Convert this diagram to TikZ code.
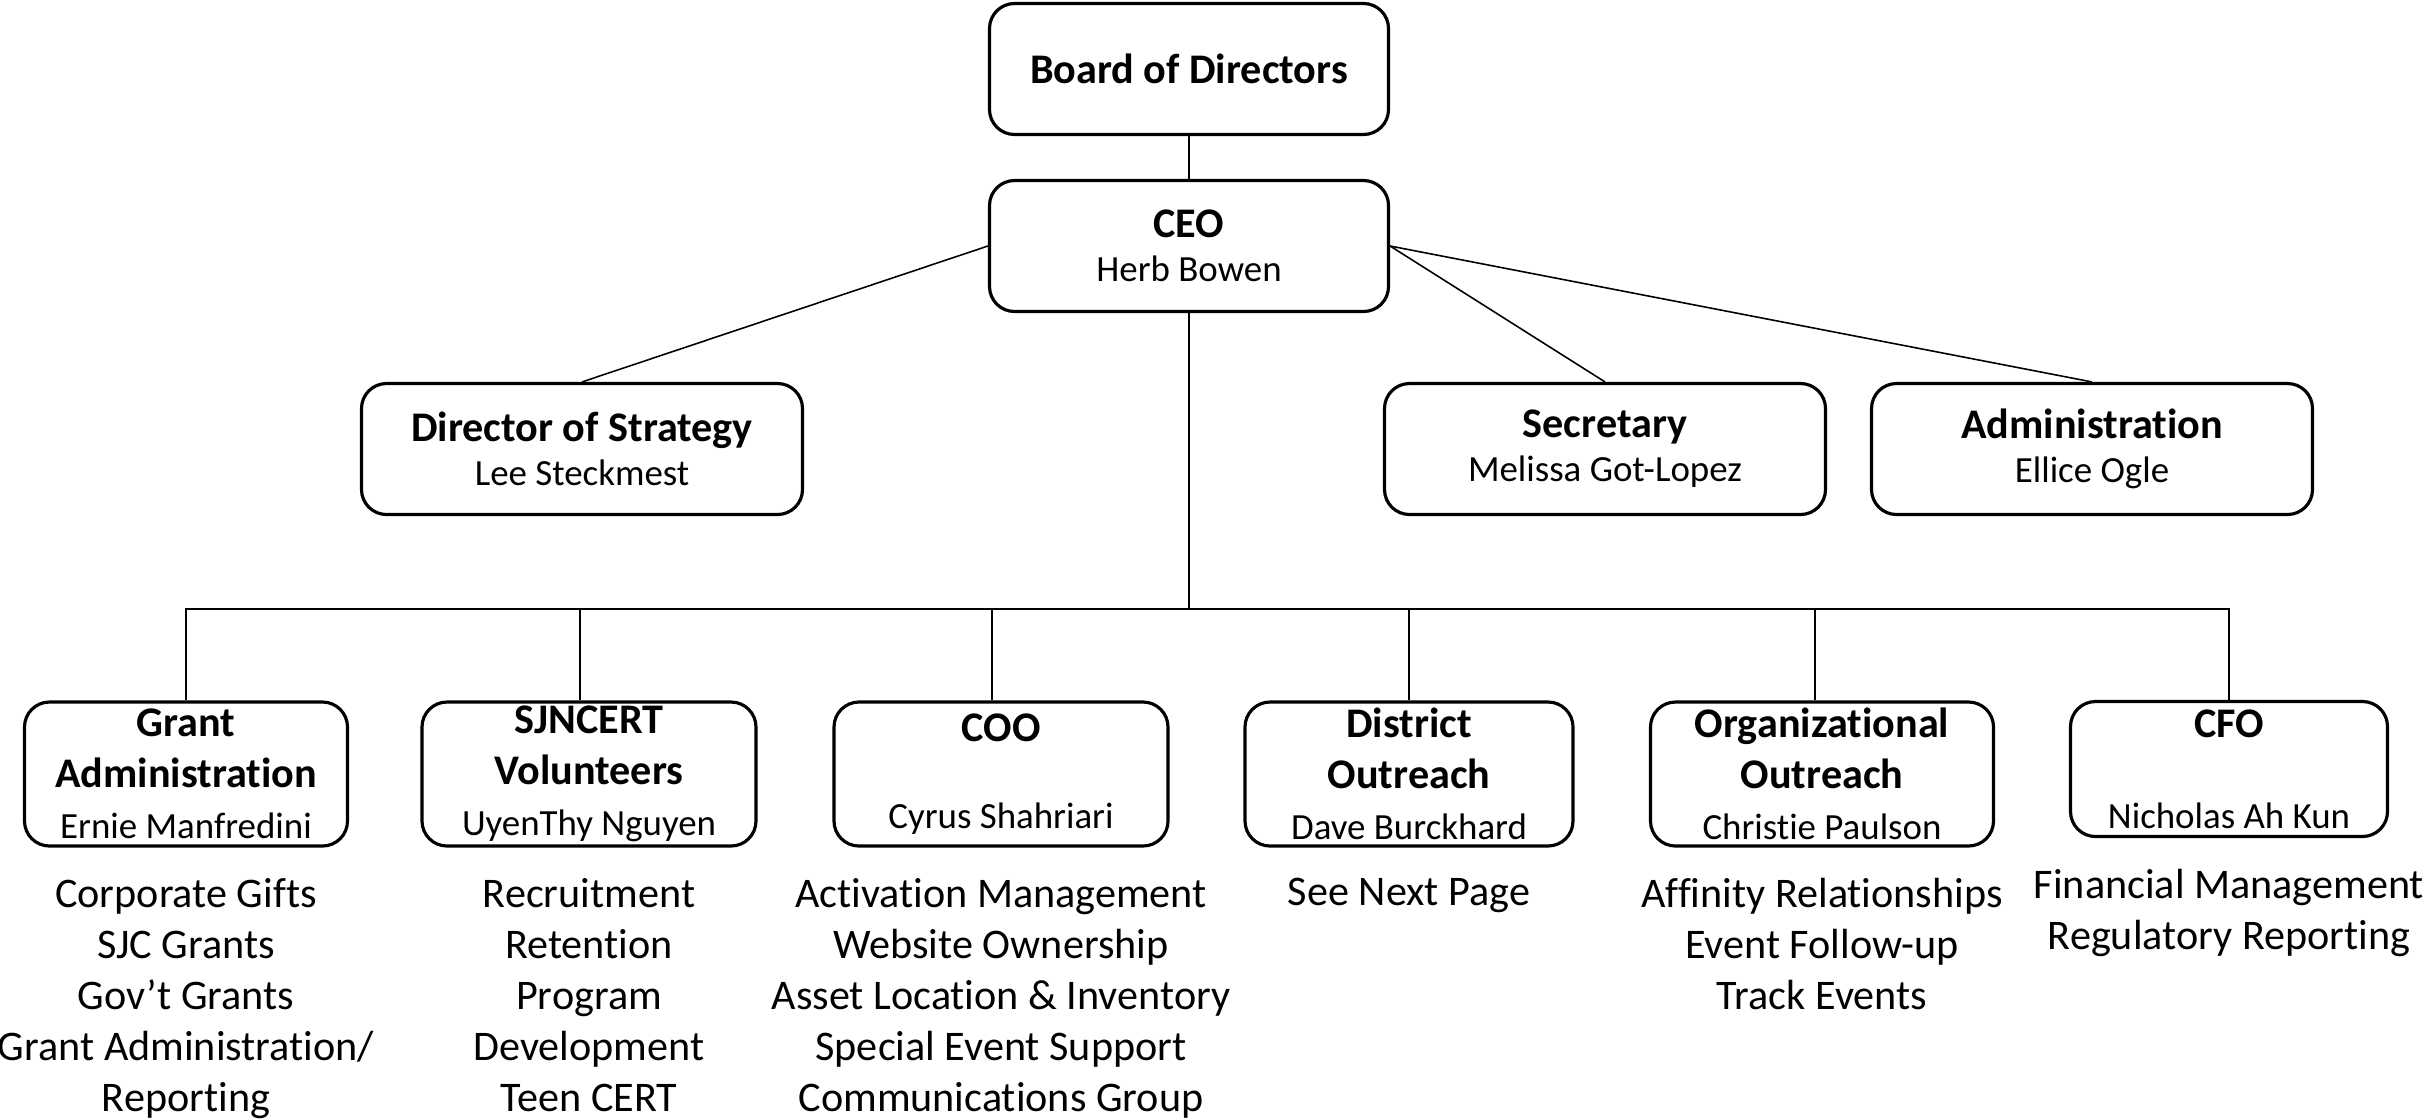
\documentclass[tikz,border=0pt]{standalone}
\usepackage{fontspec}
\setmainfont{Carlito}[Ligatures=NoCommon]
\usetikzlibrary{positioning}
\newcommand{\person}[1]{{\fontsize{10.5}{12}\selectfont #1}}

\begin{document}
\begin{tikzpicture}[
		box/.style={draw, rounded corners=0.25cm, line width=0.9pt, align=center,
			inner sep=1pt, font=\fontsize{12}{14.5}\selectfont},
		topbox/.style={box, minimum width=3.99cm, minimum height=1.31cm},
		midbox/.style={box, minimum width=4.41cm, minimum height=1.31cm},
		lowbox/.style={box, minimum height=1.44cm},
		duties/.style={align=center, inner sep=0pt, below=0.3cm of #1,
			font=\fontsize{12}{14.5}\selectfont},
		link/.style={line width=0.45pt}
	]
	\useasboundingbox (0,0) rectangle (24.25,-11.19);

	% top of the chart
	\node[topbox] (board) at (11.89,-0.69) {\textbf{Board of Directors}};
	\node[topbox] (ceo) at (11.89,-2.46) {\textbf{CEO}\\[-2pt]\person{Herb Bowen}};

	\node[midbox] (strategy) at (5.82,-4.49) {\textbf{Director of Strategy}\\[-2pt]\person{Lee Steckmest}};
	\node[midbox] (secretary) at (16.05,-4.49) {\textbf{Secretary}\\[-2pt]\person{Melissa Got-Lopez}};
	\node[midbox] (admin) at (20.92,-4.49) {\textbf{Administration}\\[-2pt]\person{Ellice Ogle}};

	% departments
	\node[lowbox, minimum width=3.23cm] (grant) at (1.86,-7.74)
		{\textbf{Grant}\\\textbf{Administration}\\\person{Ernie Manfredini}};
	\node[lowbox, minimum width=3.34cm] (sjncert) at (5.89,-7.74)
		{\textbf{SJNCERT}\\\textbf{Volunteers}\\\person{UyenThy Nguyen}};
	\node[lowbox, minimum width=3.34cm] (coo) at (10.01,-7.74)
		{\textbf{COO}\\[0.36cm]\person{Cyrus Shahriari}};
	\node[lowbox, minimum width=3.28cm] (district) at (14.09,-7.74)
		{\textbf{District}\\\textbf{Outreach}\\\person{Dave Burckhard}};
	\node[lowbox, minimum width=3.43cm] (org) at (18.22,-7.74)
		{\textbf{Organizational}\\\textbf{Outreach}\\\person{Christie Paulson}};
	\node[lowbox, minimum width=3.17cm, minimum height=1.35cm] (cfo) at (22.29,-7.69)
		{\textbf{CFO}\\[0.4cm]\person{Nicholas Ah Kun}};

	% what each department does
	\node[duties=grant] (grantjobs) {Corporate Gifts\\SJC Grants\\Gov’t Grants\\Grant Administration/\\Reporting};
	\node[duties=sjncert] (sjncertjobs) {Recruitment\\Retention\\Program\\Development\\Teen CERT};
	\node[duties=coo] (coojobs) {Activation Management\\Website Ownership\\Asset Location \& Inventory\\Special Event Support\\Communications Group};
	\node[duties=district] (districtjobs) {See Next Page};
	\node[duties=org] (orgjobs) {Affinity Relationships\\Event Follow-up\\Track Events};
	\node[duties=cfo] (cfojobs) {Financial Management\\Regulatory Reporting};

	% lines
	\coordinate (bus) at (11.89,-6.09);
	\draw[link] (board) -- (ceo);
	\draw[link] (ceo.west) -- (strategy.north);
	\draw[link] (ceo.east) -- (secretary.north);
	\draw[link] (ceo.east) -- (admin.north);
	\draw[link] (ceo) -- (bus);
	\draw[link] (grant.north) |- (bus) -| (cfo.north);
	\foreach \n/\dx in {sjncert/-0.09,coo/-0.09,district/0,org/-0.07}
		\draw[link] ([xshift=\dx cm]\n.north) -- ([xshift=\dx cm]\n.north |- bus);
\end{tikzpicture}
\end{document}
